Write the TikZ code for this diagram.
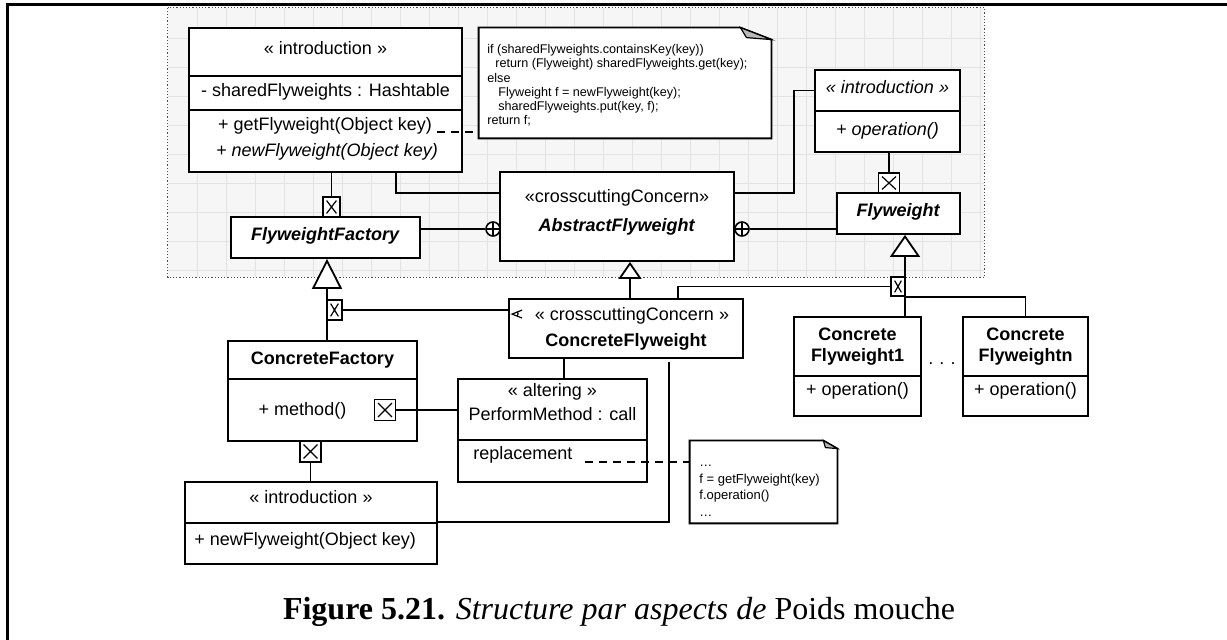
\documentclass[tikz,border=0pt]{standalone}
\usepackage{fontspec}
\setmainfont{Liberation Sans}
\newfontfamily\capfont{Liberation Serif}
\usetikzlibrary{arrows.meta,fit,calc}

\begin{document}
\begin{tikzpicture}[
  x=0.5pt, y=-0.5pt,
  font=\fontsize{9}{13}\selectfont,
  cls/.style={draw, fill=white, line width=0.9pt, inner sep=0pt},
  txt/.style={inner sep=0pt, text height=6.6pt, text depth=3.5pt},
  code/.style={inner sep=0pt, align=left, font=\fontsize{6.3}{7.15}\selectfont},
  xbox/.style={draw, fill=white, line width=0.8pt, inner sep=0pt, minimum width=10.5pt, minimum height=10.5pt,
    path picture={\draw[line width=0.6pt]
      ([shift={(1.8pt,-1.8pt)}]path picture bounding box.north west) -- ([shift={(-1.8pt,1.8pt)}]path picture bounding box.south east)
      ([shift={(-1.8pt,-1.8pt)}]path picture bounding box.north east) -- ([shift={(1.8pt,1.8pt)}]path picture bounding box.south west);}},
  oplus/.style={circle, draw, fill=white, line width=0.8pt, inner sep=0pt, minimum size=7pt,
    path picture={\draw[line width=0.6pt]
      (path picture bounding box.north) -- (path picture bounding box.south)
      (path picture bounding box.west) -- (path picture bounding box.east);}},
  link/.style={line width=0.9pt},
  notelink/.style={line width=0.9pt, dash pattern=on 4pt off 3pt},
  genbig/.style={link, -{Triangle[fill=white, length=15pt, width=15pt]}},
  genmid/.style={link, -{Triangle[fill=white, length=11pt, width=15pt]}},
  gensmall/.style={link, -{Triangle[fill=white, length=8.5pt, width=11.5pt]}},
  gridline/.style={gray!22, line width=0.3pt}
]
  \useasboundingbox (0,0) rectangle (1227,640);
  \draw[line width=1.5pt] (7,640) -- (7,5) -- (1227,5);

  % aspect zone
  \node[fill=gray!7, inner sep=0pt, fit={(168,8) (984,277)}] (zone) {};
  \foreach \gx in {197,226,...,984} \draw[gridline] (\gx,8) -- (\gx,277);
  \foreach \gy in {38,67,...,277} \draw[gridline] (168,\gy) -- (984,\gy);
  \draw[densely dotted, line width=0.6pt, gray!60!black] (zone.north west) rectangle (zone.south east);

  % classes
  \node[cls, fit={(189,28) (462,76)}] (introF-head) {};
  \node[cls, fit={(189,76) (462,110)}] (introF-attr) {};
  \node[cls, fit={(189,110) (462,172)}] (introF-ops) {};
  \node[txt] (introF-t1) at (325.5,51) {« introduction »};
  \node[txt] (introF-t2) at (325.5,93) {- sharedFlyweights : Hashtable};
  \node[txt] (introF-t3) at (325,127) {+ getFlyweight(Object key)};
  \node[txt] (introF-t4) at (327,153) {\textit{+ newFlyweight(Object key)}};

  \node[cls, fit={(500,172) (734,261)}] (abst) {};
  \node[txt] (abst-t1) at (617,199) {«crosscuttingConcern»};
  \node[txt] (abst-t2) at (617,228) {\textbf{\textit{AbstractFlyweight}}};

  \node[cls, fit={(231,217) (420,258)}] (flyF) {};
  \node[txt] (flyF-t) at (325.5,237) {\textbf{\textit{FlyweightFactory}}};

  \node[cls, fit={(815,70) (960,111)}] (introR-head) {};
  \node[cls, fit={(815,111) (960,152)}] (introR-ops) {};
  \node[txt] (introR-t1) at (887.5,90) {\textit{« introduction »}};
  \node[txt] (introR-t2) at (887.5,132) {\textit{+ operation()}};

  \node[cls, fit={(837,193) (960,234)}] (fly) {};
  \node[txt] (fly-t) at (898.5,213.5) {\textbf{\textit{Flyweight}}};

  \node[cls, fit={(509,299) (743,358)}] (cFly) {};
  \node[txt] (cFly-t1) at (632,317) {« crosscuttingConcern »};
  \node[txt] (cFly-t2) at (626,343) {\textbf{ConcreteFlyweight}};

  \node[cls, fit={(228,341) (417,379)}] (cFac-head) {};
  \node[cls, fit={(228,379) (417,441)}] (cFac-body) {};
  \node[txt] (cFac-t) at (322.5,361) {\textbf{ConcreteFactory}};
  \node[txt] (meth) at (302.5,412) {+ method()};

  \node[cls, fit={(185,482) (437,523)}] (introB-head) {};
  \node[cls, fit={(185,523) (437,564)}] (introB-body) {};
  \node[txt] (introB-t) at (311,500) {« introduction »};
  \node[txt, anchor=west] (newfw) at (194,542) {+ newFlyweight(Object key)};

  \node[cls, fit={(458,379) (647,440)}] (alter-head) {};
  \node[cls, fit={(458,440) (647,482)}] (alter-body) {};
  \node[txt] (alter-t1) at (552.5,393) {« altering »};
  \node[txt] (alter-t2) at (552.5,417) {PerformMethod : call};
  \node[txt, anchor=west] (repl) at (473,456) {replacement};

  \node[cls, fit={(794,317) (921,376)}] (cf1-head) {};
  \node[cls, fit={(794,376) (921,416)}] (cf1-body) {};
  \node[txt] (cf1-t1) at (857.5,337) {\textbf{Concrete}};
  \node[txt] (cf1-t2) at (857.5,358) {\textbf{Flyweight1}};
  \node[txt] (cf1-t3) at (857.5,392) {+ operation()};
  \node[cls, fit={(963,317) (1088,376)}] (cfn-head) {};
  \node[cls, fit={(963,376) (1088,416)}] (cfn-body) {};
  \node[txt] (cfn-t1) at (1025.5,337) {\textbf{Concrete}};
  \node[txt] (cfn-t2) at (1025.5,358) {\textbf{Flyweightn}};
  \node[txt] (cfn-t3) at (1025.5,392) {+ operation()};
  \node[inner sep=0pt] (dots) at (942,366) {·\hspace{2.6pt}·\hspace{2.6pt}·};

  % notes
  \node[inner sep=0pt, fit={(479,28) (771,138)}] (note1) {};
  \draw[link, fill=white] (note1.south west) -- (note1.north west) -- ([xshift=-15.5pt]note1.north east)
    -- ([yshift=-6pt]note1.north east) -- (note1.south east) -- cycle;
  \draw[line width=0.6pt, fill=gray!55] ([xshift=-15.5pt]note1.north east) -- ([yshift=-6pt]note1.north east)
    -- ([xshift=-12.5pt,yshift=-5pt]note1.north east) -- cycle;
  \node[code, anchor=north west] (code1) at (487,43) {\strut if (sharedFlyweights.containsKey(key))\\
    \hspace*{4pt}return (Flyweight) sharedFlyweights.get(key);\\
    else\\
    \hspace*{5.5pt}Flyweight f = newFlyweight(key);\\
    \hspace*{5.5pt}sharedFlyweights.put(key, f);\\
    return f;};

  \node[inner sep=0pt, fit={(690,441) (837,523)}] (note2) {};
  \draw[link, fill=white] (note2.south west) -- (note2.north west) -- ([xshift=-7pt]note2.north east)
    -- ([yshift=-4pt]note2.north east) -- (note2.south east) -- cycle;
  \draw[line width=0.6pt, fill=gray!55] ([xshift=-7pt]note2.north east) -- ([yshift=-4pt]note2.north east)
    -- ([xshift=-6pt,yshift=-3.5pt]note2.north east) -- cycle;
  \node[code, anchor=north west, font=\fontsize{6.5}{8.25}\selectfont] (code2) at (699,455) {\strut …\\
    f = getFlyweight(key)\\
    f.operation()\\
    …};

  % markers
  \node[xbox, minimum width=8.5pt, minimum height=10pt] (xb1) at (331.5,207) {};
  \node[xbox, minimum height=10pt] (xb2) at (889,183) {};
  \node[xbox] (xb3) at (385,410) {};
  \node[xbox] (xb4) at (310.5,451.5) {};
  \node[xbox, minimum width=7pt, minimum height=9.5pt] (xb5) at (898,286.5) {};
  \node[xbox, minimum width=7.5pt, minimum height=10pt] (xb6) at (334.5,310) {};
  \node[oplus] (circ1) at (493,229) {};
  \node[oplus] (circ2) at (742,229) {};

  \coordinate (k1) at (396,193);
  \coordinate (k2) at (794,193);
  \coordinate (k3) at (905,297);
  \coordinate (k4) at (678,286);
  \coordinate (k5) at (630,299);
  \coordinate (k6) at (327,341);
  \coordinate (k7) at (564,358);
  \coordinate (k8) at (669,362);
  \coordinate (getend) at (437,132);
  \coordinate (repend) at (585,462);

  % connectors
  \draw[link] (introF-ops.south -| xb1) -- (xb1);
  \draw[link] (introF-ops.south -| k1) |- (abst.west |- k1);
  \draw[link] (flyF.east |- circ1) -- (circ1);
  \draw[link] (circ2) -- (fly.west |- circ2);
  \draw[link] (abst.east |- k2) -- (k2) |- (introR-head.west);
  \draw[link] (introR-ops.south -| xb2) -- (xb2);
  \draw[notelink] (getend) -- (note1.west |- getend);

  \draw[genmid] (cf1-head.north -| k3) -- (fly.south -| k3);
  \draw[link] (k3) -| (cfn-head.north);
  \draw[link] (cFly.north -| k4) |- (xb5.west);
  \draw[gensmall] (cFly.north -| k5) -- (abst.south -| k5);
  \draw[genbig] (cFac-head.north -| k6) -- (flyF.south -| k6);
  \draw[link] (xb6.east) -- (cFly.west |- xb6);
  \draw[link] (xb3.east) -- (alter-head.west |- xb3);
  \draw[link] (xb4) -- (introB-head.north -| xb4);
  \draw[link] (cFly.south -| k7) -- (alter-head.north -| k7);
  \draw[link] (k8) |- (introB-body.north east);
  \draw[notelink] (repend) -- (note2.west |- repend);

  % aspect mark
  \draw[line width=0.6pt] ([shift={(14,12)}]cFly.north west) -- ([shift={(4,16)}]cFly.north west)
    -- ([shift={(14,20)}]cFly.north west);
  \draw[line width=0.6pt] ([shift={(9,13.5)}]cFly.north west) to[bend left=50] ([shift={(9,18)}]cFly.north west);

  \node[font=\capfont\fontsize{16}{18}\selectfont] (cap) at (619,612)
    {\textbf{Figure 5.21.} \textit{Structure par aspects de} Poids mouche};
\end{tikzpicture}
\end{document}
